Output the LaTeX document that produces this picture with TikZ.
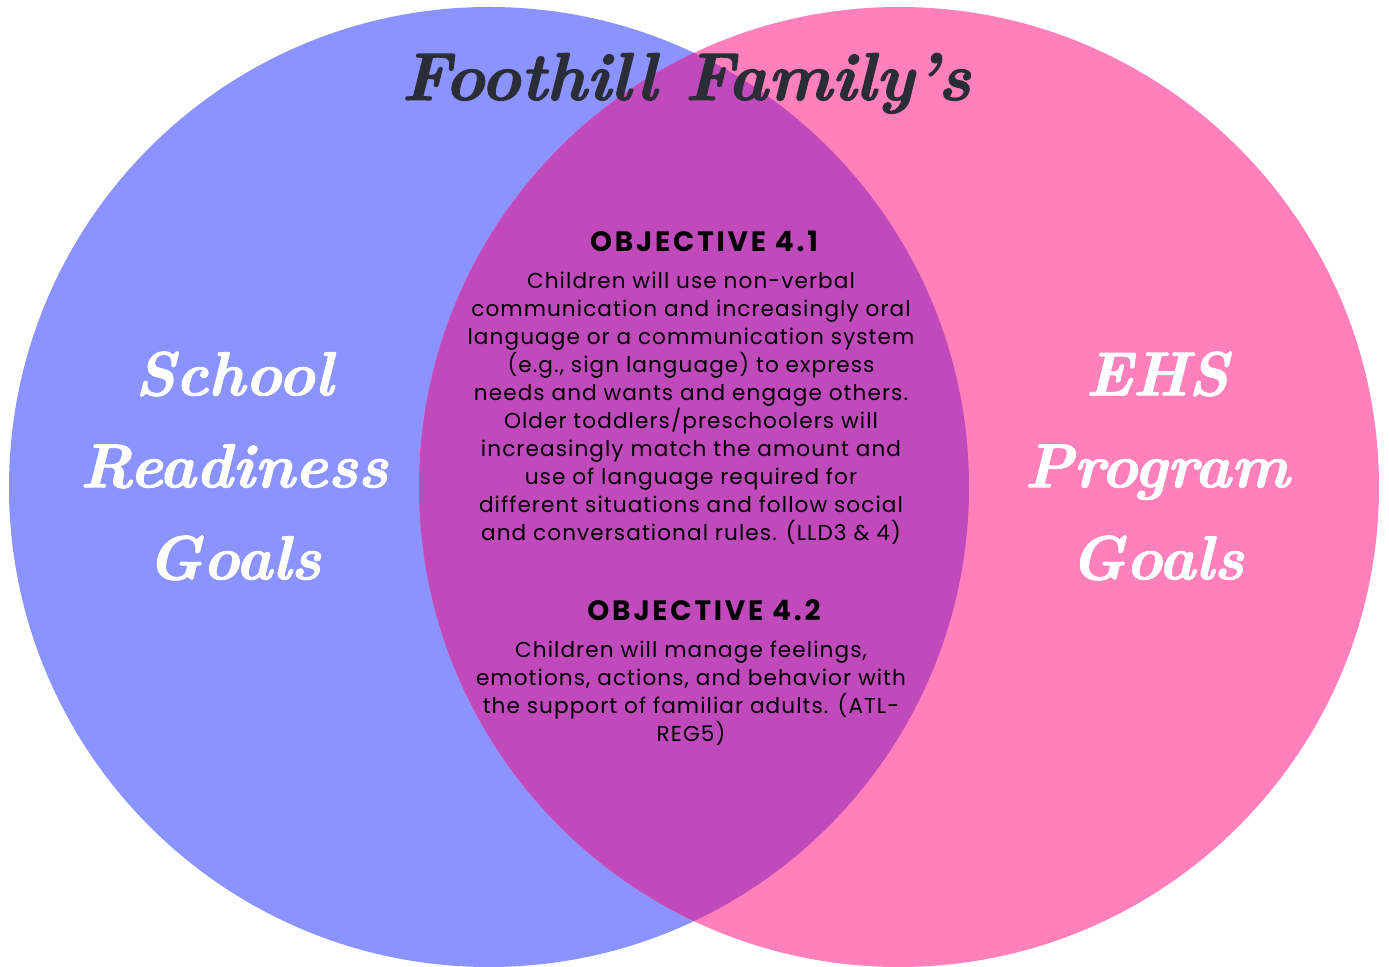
\documentclass[tikz,border=0pt]{standalone}
\usepackage{fontspec}
\newfontfamily\objfont[LetterSpace=5]{Poppins}
\newfontfamily\objheadfont[LetterSpace=10]{Poppins}
\newfontfamily\heavyserif[FakeBold=1.6]{lmroman10-bolditalic.otf}
\definecolor{leftblue}{RGB}{138,147,255}
\definecolor{rightpink}{RGB}{255,128,186}
\definecolor{lenspurple}{RGB}{192,74,187}
\definecolor{titlegray}{RGB}{42,45,54}
\tikzset{
  titletext/.style={text=titlegray, inner sep=0, font=\heavyserif\fontsize{33.8}{38}\selectfont},
  goaltext/.style={text=white, inner sep=0, align=center, font=\heavyserif\fontsize{31}{46}\selectfont},
  objhead/.style={inner sep=0, font=\objheadfont\fontsize{14}{16}\selectfont\bfseries},
  objbody/.style={inner sep=0, align=center, font=\objfont\fontsize{10.8}{14}\selectfont},
}

\begin{document}
\begin{tikzpicture}[x=0.5pt,y=-0.5pt]
		%%%%% START %%%%%
		\useasboundingbox (0,0) rectangle (1389,967);

		\fill[leftblue] (489,487) circle[radius=240pt];
		\fill[rightpink] (899,487) circle[radius=240pt];
		\begin{scope}
			\clip (489,487) circle[radius=240pt];
			\fill[lenspurple] (899,487) circle[radius=240pt];
		\end{scope}

		\node[titletext, anchor=base] (title) at (686,100) {Foothill Family’s};

		\node[goaltext] (school) at (234,466) {School\\Readiness\\Goals};
		\node[goaltext] (ehs) at (1157,466) {EHS\\Program\\Goals};

		\node[objhead, anchor=base] (obja) at (704,252) {OBJECTIVE 4.1};
		\node[objbody, anchor=north] (objatext) at (691,272) {Children will use non-verbal\\communication and increasingly oral\\language or a communication system\\(e.g., sign language) to express\\needs and wants and engage others.\\Older toddlers/preschoolers will\\increasingly match the amount and\\use of language required for\\different situations and follow social\\and conversational rules. (LLD3 \& 4)};

		\node[objhead, anchor=base] (objb) at (704,621) {OBJECTIVE 4.2};
		\node[objbody, anchor=north] (objbtext) at (691,641) {Children will manage feelings,\\emotions, actions, and behavior with\\the support of familiar adults. (ATL-\\REG5)};
		%%%%% END %%%%%
\end{tikzpicture}
\end{document}
